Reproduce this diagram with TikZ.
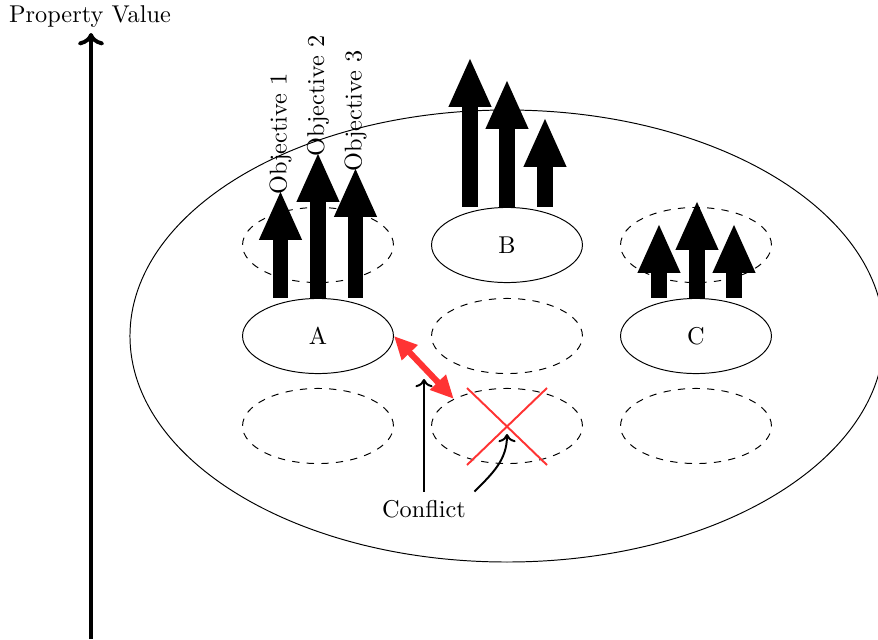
\documentclass[tikz,border=0pt]{standalone}
\usetikzlibrary{arrows.meta,shapes.geometric,calc}
\definecolor{conflictred}{RGB}{255,51,51}
\begin{document}
\begin{tikzpicture}[x=0.4115pt,y=-0.4115pt,
  option/.style={ellipse,draw,minimum width=62.1pt,minimum height=30.9pt,inner sep=0pt},
  candidate/.style={option,dashed},
  objarrow/.style={line width=6.2pt,-{Triangle[width=16pt,length=20.5pt]}},
  objlabel/.style={rotate=90,anchor=west,inner sep=0pt,outer sep=-2pt},
  conflictarrow/.style={conflictred,line width=2.5pt,{Triangle[width=8.5pt,length=9.5pt]}-{Triangle[width=8.5pt,length=9.5pt]}},
  cross/.style={conflictred,thick},
  pointer/.style={thick,->}]
\clip (0,0) rectangle (878,639);
\useasboundingbox (0,0) rectangle (878,639);

% value axis
\node (pv) at (90,17) {Property Value};
\coordinate (axisbot) at (91,639);
\coordinate (axistop) at (91,33);
\draw[ultra thick,->] (axisbot) -- (axistop);

% design space
\node[ellipse,draw,minimum width=310.3pt,minimum height=186pt] (space) at (507,336) {};

% candidate options
\node[candidate] (d1) at (318,245) {};
\node[candidate] (d2) at (696,245) {};
\node[candidate] (d3) at (507,336) {};
\node[candidate] (d4) at (318,426) {};
\node[candidate] (X)  at (507,426) {};
\node[candidate] (d6) at (696,426) {};

% realised options
\node[option] (A) at (318,336) {A};
\node[option] (B) at (507,245) {B};
\node[option] (C) at (696,336) {C};

% objective values of A
\draw[objarrow] ($(A.north)+(-37.5,0)$) -- ++(0,-108) node[objlabel] {Objective 1};
\draw[objarrow] (A.north) -- ++(0,-146) node[objlabel] {Objective 2};
\draw[objarrow] ($(A.north)+(37.5,0)$) -- ++(0,-131) node[objlabel] {Objective 3};

% objective values of B
\draw[objarrow] ($(B.north)+(-37,0)$) -- ++(0,-150);
\draw[objarrow] (B.north) -- ++(0,-128);
\draw[objarrow] ($(B.north)+(38,0)$) -- ++(0,-90);

% objective values of C
\draw[objarrow] ($(C.north)+(-37,0)$) -- ++(0,-75);
\draw[objarrow] ($(C.north)+(1,0)$) -- ++(0,-98);
\draw[objarrow] ($(C.north)+(38,0)$) -- ++(0,-75);

% conflict between A and the excluded option
\draw[conflictarrow] (A.east) -- (X.153);
\draw[cross] ($(X.center)+(-40,-38)$) -- ($(X.center)+(40,39)$);
\draw[cross] ($(X.center)+(40,-38)$) -- ($(X.center)+(-40,39)$);

\node (conf) at (424,509) {Conflict};
\coordinate (confup) at (424,379);
\coordinate (xmark) at (507,434);
\draw[pointer] (conf.north) -- (confup);
\draw[pointer] (conf.north east) to[out=45,in=-90] (xmark);
\end{tikzpicture}
\end{document}
